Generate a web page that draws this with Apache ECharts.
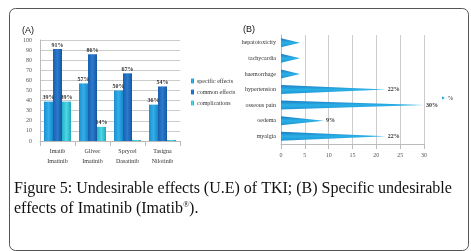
<!DOCTYPE html>
<html><head><meta charset="utf-8">
<script src="https://cdn.jsdelivr.net/npm/echarts@6/dist/echarts.min.js"></script>
<style>html,body{margin:0;padding:0;background:#fff}#c{width:471px;height:251px}</style>
</head><body><div id="c"></div>
<script>
// ---- Data: chart A ----
const drugs = ['Imatib\nImatinib', 'Glivec\nImatinib', 'Sprycel\nDasatinib', 'Tasigna\nNilotinib'];
const specificEffects = [39, 57, 50, 36];
const commonEffects = [91, 86, 67, 54];
const complications = [39, 14, 1, 1];
const specificLabels = ['39%', '57%', '50%', '36%'];
const commonLabels = ['91%', '86%', '67%', '54%'];
const complicationLabels = ['39%', '14%', '', ''];
const yTicksA = [0, 10, 20, 30, 40, 50, 60, 70, 80, 90, 100];
// ---- Data: chart B ----
const effectsB = ['myalgia', 'oedema', 'osseous pain', 'hypertension', 'haemorrhage', 'tachycardia', 'hepatotoxicity'];
const percentB = [22, 9, 30, 22, 4, 4, 4];
const labelsB = ['22%', '9%', '30%', '22%', '', '', ''];
const xTicksB = [0, 5, 10, 15, 20, 25, 30];

const chart = echarts.init(document.getElementById('c'));
const serif = 'Liberation Serif';
const small = {fontFamily: serif, fontSize: 6, color: '#333'};
const barLab = (arr) => ({show: true, position: 'top', distance: 1, fontSize: 6, fontWeight: 'bold', fontFamily: serif, color: '#333',
  formatter: p => arr[p.dataIndex]});

chart.setOption({
  animation: false,
  grid: [
    {left: 40, top: 40, width: 140, height: 101},
    {left: 281, top: 35, width: 143, height: 109}
  ],
  legend: [
    {orient: 'vertical', left: 186, top: 73, itemWidth: 3, itemHeight: 5, itemGap: 5,
     textStyle: {fontFamily: serif, fontSize: 6, color: '#333', padding: [0,0,0,-2]},
     data: ['specific effects', 'common effects', 'complications']},
    {orient: 'vertical', left: 437, top: 90, itemWidth: 3, itemHeight: 4,
     textStyle: {fontFamily: serif, fontSize: 6, color: '#333', padding: [0,0,0,-2]},
     data: ['%']}
  ],
  xAxis: [
    {type: 'category', gridIndex: 0, data: drugs,
     axisLine: {lineStyle: {color: '#bbb'}}, axisTick: {show: true, lineStyle: {color: '#bbb'}},
     axisLabel: Object.assign({}, small, {margin: 5, lineHeight: 10, interval: 0})},
    {type: 'value', gridIndex: 1, min: 0, max: 30, interval: 5,
     axisLine: {show: true, lineStyle: {color: '#bbb'}}, axisTick: {show: true, lineStyle: {color: '#bbb'}},
     splitLine: {show: true, lineStyle: {color: '#ccc'}},
     axisLabel: Object.assign({}, small, {margin: 8, color: '#555', formatter: v => xTicksB.includes(v) ? String(v) : ''})}
  ],
  yAxis: [
    {type: 'value', gridIndex: 0, min: 0, max: 100, interval: 10,
     axisLine: {show: true, lineStyle: {color: '#bbb'}}, axisTick: {show: false},
     splitLine: {show: true, lineStyle: {color: '#ccc'}},
     axisLabel: Object.assign({}, small, {margin: 8, color: '#555', formatter: v => yTicksA.includes(v) ? String(v) : ''})},
    {type: 'category', gridIndex: 1, data: effectsB,
     axisLine: {show: true, lineStyle: {color: '#bbb'}}, axisTick: {show: false},
     axisLabel: Object.assign({}, small, {margin: 5, interval: 0})}
  ],
  series: [
    {name: 'specific effects', type: 'bar', xAxisIndex: 0, yAxisIndex: 0, data: specificEffects,
     barWidth: 9, barGap: '0%',
     itemStyle: {color: new echarts.graphic.LinearGradient(0,0,1,0,[{offset:0,color:'#1b8fd0'},{offset:0.5,color:'#32aee8'},{offset:1,color:'#1888c8'}])},
     label: barLab(specificLabels)},
    {name: 'common effects', type: 'bar', xAxisIndex: 0, yAxisIndex: 0, data: commonEffects,
     barWidth: 9, barGap: '0%',
     itemStyle: {color: new echarts.graphic.LinearGradient(0,0,1,0,[{offset:0,color:'#195fae'},{offset:0.5,color:'#2a7bd0'},{offset:1,color:'#16579e'}])},
     label: barLab(commonLabels)},
    {name: 'complications', type: 'bar', xAxisIndex: 0, yAxisIndex: 0, data: complications,
     barWidth: 9, barGap: '0%',
     itemStyle: {color: new echarts.graphic.LinearGradient(0,0,1,0,[{offset:0,color:'#22b4c8'},{offset:0.5,color:'#4fd6e4'},{offset:1,color:'#1fa6bb'}])},
     label: barLab(complicationLabels)},
    {name: '%', type: 'pictorialBar', xAxisIndex: 1, yAxisIndex: 1, data: percentB,
     symbol: 'path://M0,0 L100,50 L0,100 Z', symbolSize: ['100%', 9], symbolRepeat: false,
     symbolPosition: 'start',
     itemStyle: {color: new echarts.graphic.LinearGradient(0,0,0,1,[{offset:0,color:'#1a7cc4'},{offset:0.5,color:'#2ab0e6'},{offset:1,color:'#1f95d4'}])},
     label: {show: true, position: 'right', distance: 2, fontSize: 6, fontWeight: 'bold', fontFamily: serif, color: '#333',
       formatter: p => labelsB[p.dataIndex]}}
  ],
  graphic: [
    {type: 'rect', left: 7, top: 6, shape: {width: 459, height: 242, r: 6}, style: {fill: 'none', stroke: '#555', lineWidth: 1}, silent: true},
    {type: 'text', left: 22, top: 26, style: {text: '(A)', font: '9px Liberation Sans', fill: '#111'}},
    {type: 'text', left: 243, top: 25, style: {text: '(B)', font: '9px Liberation Sans', fill: '#111'}},
    {type: 'text', left: 14, top: 181, style: {text: 'Figure 5: Undesirable effects (U.E) of TKI; (B) Specific undesirable', font: '16px Liberation Serif', fill: '#111'}},
    {type: 'text', left: 14, top: 201, style: {text: 'effects of Imatinib (Imatib{s|\u00ae}).', font: '16px Liberation Serif', fill: '#111',
      rich: {s: {fontSize: 8, fontFamily: 'Liberation Serif', verticalAlign: 'top', padding: [0, 0, 6, 0]}}}}
  ]
});
</script></body></html>
